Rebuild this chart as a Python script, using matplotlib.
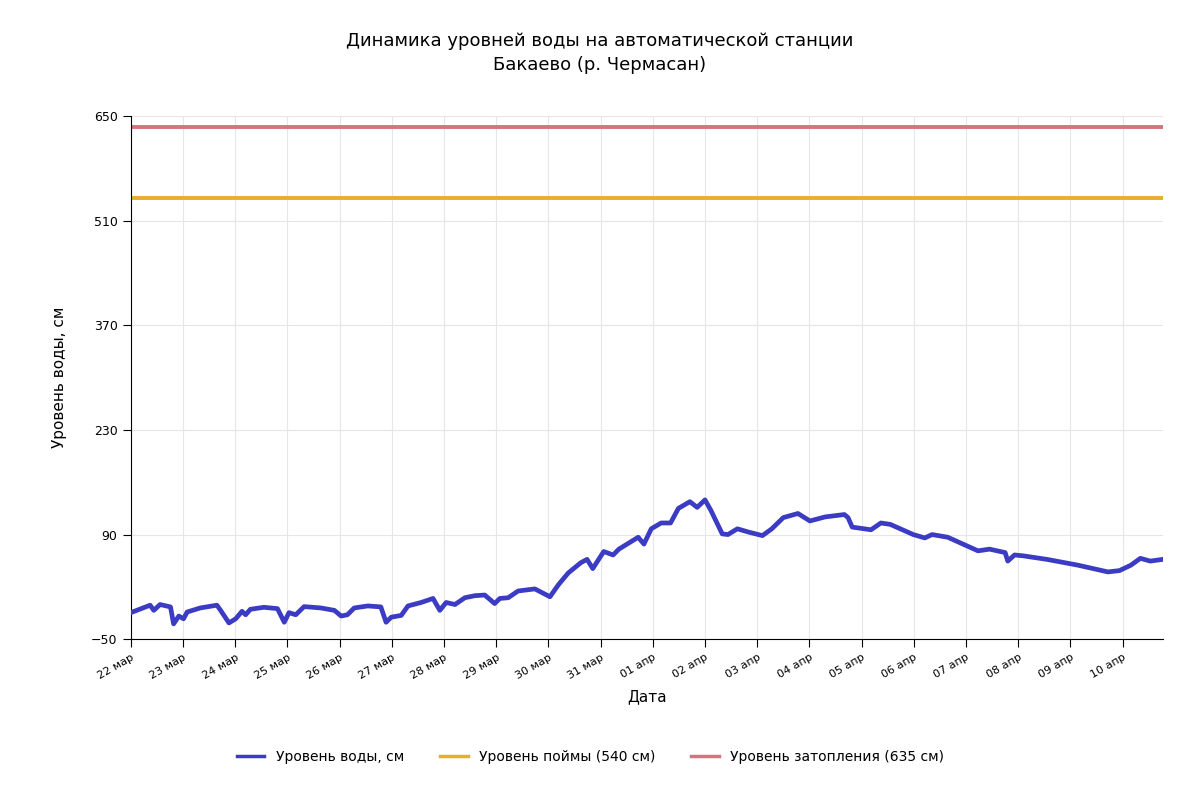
import numpy as np
import pandas as pd
import matplotlib
matplotlib.use("Agg")
import matplotlib.pyplot as plt
import matplotlib.dates as mdates
from matplotlib.ticker import FuncFormatter

# данные (время в сутках от 22 марта)
start = pd.Timestamp("2024-03-22 00:00")
days = [0, 0.37, 0.44, 0.56, 0.76, 0.82, 0.92, 1.01, 1.08, 1.33, 1.65, 1.72, 1.88,
        2.01, 2.13, 2.2, 2.29, 2.55, 2.81, 2.94, 3.03, 3.16, 3.32, 3.64, 3.9, 4.03,
        4.15, 4.28, 4.54, 4.79, 4.89, 4.99, 5.18, 5.31, 5.56, 5.79, 5.92, 6.04, 6.21,
        6.4, 6.59, 6.78, 6.97, 7.07, 7.23, 7.42, 7.74, 8.03, 8.19, 8.38, 8.62, 8.74,
        8.85, 9.06, 9.24, 9.35, 9.72, 9.83, 9.97, 10.16, 10.34, 10.49, 10.71, 10.85,
        11.0, 11.11, 11.33, 11.44, 11.62, 11.84, 12.1, 12.28, 12.5, 12.78, 13.01,
        13.3, 13.67, 13.74, 13.82, 14.18, 14.37, 14.55, 14.99, 15.21, 15.35, 15.65,
        15.94, 16.23, 16.45, 16.75, 16.8, 16.93, 17.11, 17.55, 18.14, 18.72, 18.94,
        19.16, 19.34, 19.53, 19.77]
level = [-14.5, -4.5, -11.4, -3.6, -6.8, -29.5, -19, -22.7, -13.6, -8.2, -4.5, -11.4,
         -28.2, -22.7, -12.7, -17.3, -10, -7.3, -9.1, -27.3, -14.5, -17.3, -6.4, -8.2,
         -11.4, -19, -17.3, -8.2, -5.5, -6.8, -27.3, -20.5, -18.2, -5.5, -0.9, 4.5,
         -11.4, -0.9, -3.6, 5.5, 8.2, 9.1, -2.3, 4.5, 5.5, 14.5, 17.3, 6.8, 22.7, 38.6,
         52.3, 56.8, 44.5, 67.3, 62.7, 70.5, 86.4, 77.3, 97.7, 105.5, 105.5, 125, 134,
         126.4, 136.4, 122.7, 90.9, 90, 97.7, 93.2, 88.6, 97.7, 112.7, 118.2, 108.2,
         113.6, 116.8, 112.7, 100, 96.4, 105.5, 103.6, 90, 85.5, 90, 86.4, 77.3, 68.2,
         70.5, 65.9, 54.5, 62.7, 61.4, 56.8, 49.1, 40, 41.8, 49.1, 58.2, 54.5, 56.8]
floodplain = 540
flooding = 635
yticks = [-50, 90, 230, 370, 510, 650]
months_ru = {3: "мар", 4: "апр"}

t = start + pd.to_timedelta(days, unit="D")

plt.rcParams["font.family"] = ["DejaVu Sans"]
fig = plt.figure(figsize=(12, 8), dpi=100)
ax = fig.add_axes([0.109, 0.201, 0.86, 0.654])

ax.plot(t, level, color="#3b3bc4", lw=3.4, solid_joinstyle="round", label="Уровень воды, см", zorder=3)
ax.axhline(floodplain, color="#e6ae2c", lw=2.8, label="Уровень поймы (540 см)")
ax.axhline(flooding, color="#d9727c", lw=2.8, label="Уровень затопления (635 см)")

ax.set_ylim(-50, 650)
ax.set_yticks(yticks)
ax.set_xlim(start, t[-1])
ax.xaxis.set_major_locator(mdates.DayLocator())
ax.xaxis.set_major_formatter(FuncFormatter(
    lambda v, pos: "%02d %s" % (mdates.num2date(v).day, months_ru[mdates.num2date(v).month])))
for lab in ax.get_xticklabels():
    lab.set_rotation(30)
    lab.set_ha("right")
    lab.set_rotation_mode("anchor")
ax.tick_params(axis="x", labelsize=8, length=6, color="black")
ax.tick_params(axis="y", labelsize=9, length=6, color="black")

ax.grid(True, color="#e6e6e6", lw=0.8)
ax.set_axisbelow(True)
for s in ["top", "right"]:
    ax.spines[s].set_visible(False)
ax.spines["left"].set_color("black")
ax.spines["bottom"].set_color("black")

ax.set_ylabel("Уровень воды, см", fontsize=11, labelpad=17)
ax.set_xlabel("Дата", fontsize=11, labelpad=6)
fig.text(0.5, 0.934, "Динамика уровней воды на автоматической станции\nБакаево (р. Чермасан)",
         ha="center", va="center", fontsize=13, linespacing=1.45)

leg = fig.legend(loc="center", bbox_to_anchor=(0.492, 0.054), ncol=3, frameon=False,
                 fontsize=10, handlelength=2.0, columnspacing=2.6)
for h in leg.get_lines():
    h.set_linewidth(2.5)

fig.savefig("out.png", dpi=100, facecolor="white")
